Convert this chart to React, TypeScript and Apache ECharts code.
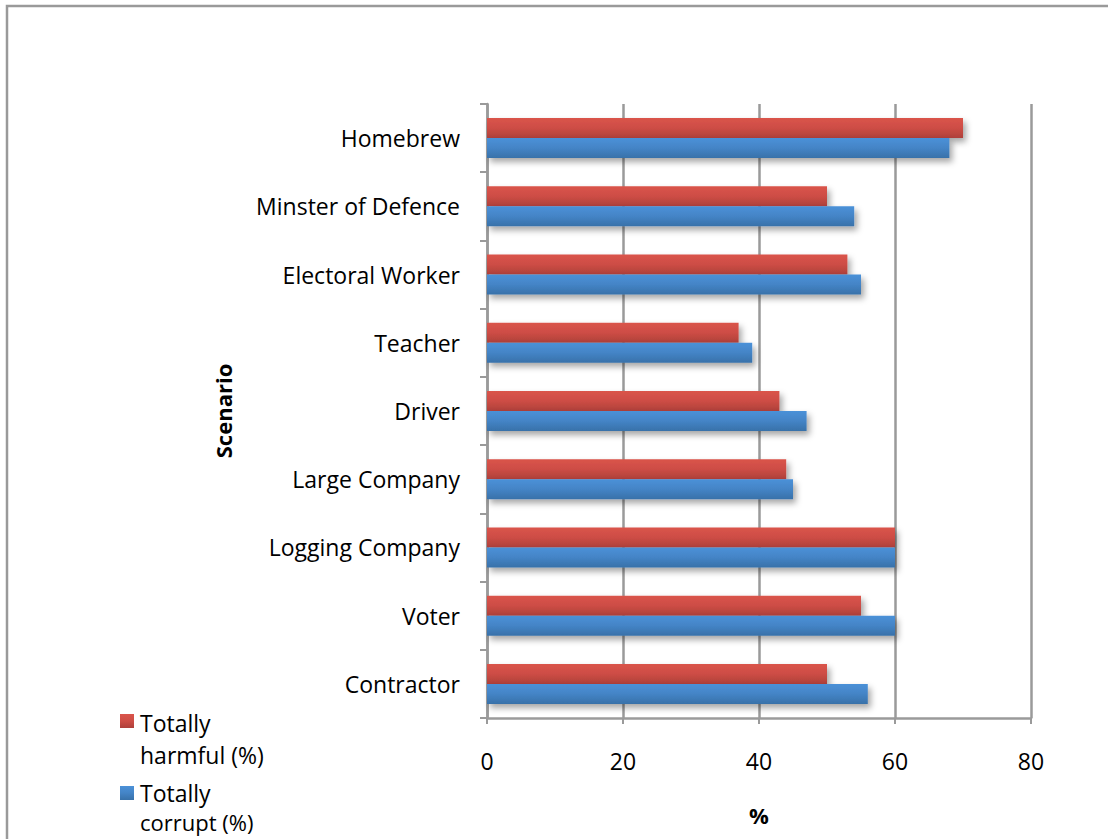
import React, { useEffect, useRef } from "react";
import * as echarts from "echarts";

const categories = [
  "Homebrew",
  "Minster of Defence",
  "Electoral Worker",
  "Teacher",
  "Driver",
  "Large Company",
  "Logging Company",
  "Voter",
  "Contractor",
];
const harmful = [70, 50, 53, 37, 43, 44, 60, 55, 50];
const corrupt = [68, 54, 55, 39, 47, 45, 60, 60, 56];
const xTicks = [0, 20, 40, 60, 80];
const seriesLines = [
  ["Totally", "harmful (%)"],
  ["Totally", "corrupt (%)"],
];

const FONT = "'Open Sans', sans-serif";
const FS = 23;
const GRID = "#9a9a9a";

const redGrad = new echarts.graphic.LinearGradient(0, 0, 0, 1, [
  { offset: 0, color: "#da544b" },
  { offset: 0.5, color: "#cd4d45" },
  { offset: 1, color: "#ae403a" },
]);
const blueGrad = new echarts.graphic.LinearGradient(0, 0, 0, 1, [
  { offset: 0, color: "#4b91d8" },
  { offset: 0.5, color: "#4484c6" },
  { offset: 1, color: "#3871a9" },
]);

export default function App() {
  const ref = useRef<HTMLDivElement>(null);
  useEffect(() => {
    if (!ref.current) return;
    const chart = echarts.init(ref.current, null, { renderer: "svg" });
    const shadow = {
      shadowBlur: 6,
      shadowColor: "rgba(0,0,0,0.35)",
      shadowOffsetX: 3,
      shadowOffsetY: 4,
    };
    const legendText = (text: string, y: number, size: number = FS) => ({
      type: "text",
      x: 140,
      y,
      style: {
        text,
        fontFamily: FONT,
        fontSize: size,
        lineHeight: size,
        fill: "#000",
        verticalAlign: "middle",
      },
    });
    chart.setOption({
      animation: false,
      backgroundColor: "#ffffff",
      grid: { left: 487, top: 104, width: 544, height: 614, containLabel: false },
      xAxis: {
        type: "value",
        min: 0,
        max: 80,
        interval: 20,
        name: "%",
        nameLocation: "middle",
        nameGap: 86,
        nameTextStyle: { fontFamily: FONT, fontSize: 22, fontWeight: "bold", color: "#000" },
        axisLine: { show: true, lineStyle: { color: GRID, width: 2.5 } },
        axisTick: { show: true, length: 6, lineStyle: { color: GRID, width: 2 } },
        axisLabel: {
          fontFamily: FONT,
          fontSize: FS,
          color: "#000",
          margin: 31,
          formatter: (v: number) => (xTicks.includes(v) ? String(v) : ""),
        },
        splitLine: { show: true, lineStyle: { color: GRID, width: 2.5 } },
      },
      yAxis: {
        type: "category",
        data: categories,
        inverse: true,
        name: "Scenario",
        nameLocation: "middle",
        nameGap: 253,
        nameRotate: 90,
        nameTextStyle: { fontFamily: FONT, fontSize: 22, fontWeight: "bold", color: "#000" },
        axisLine: { show: true, lineStyle: { color: GRID, width: 2.5 } },
        axisTick: { show: true, length: 7, lineStyle: { color: GRID, width: 2 } },
        axisLabel: {
          fontFamily: FONT,
          fontSize: FS,
          color: "#000",
          margin: 27,
          padding: [6, 0, 0, 0],
        },
        splitLine: { show: false },
      },
      series: [
        {
          name: "Totally harmful (%)",
          type: "bar",
          data: harmful,
          barWidth: 20,
          barGap: "0%",
          itemStyle: { color: redGrad, ...shadow },
        },
        {
          name: "Totally corrupt (%)",
          type: "bar",
          data: corrupt,
          barWidth: 20,
          barGap: "0%",
          itemStyle: { color: blueGrad, ...shadow },
        },
      ],
      graphic: [
        {
          type: "rect",
          shape: { x: 7, y: 6, width: 1200, height: 900 },
          style: { fill: "none", stroke: GRID, lineWidth: 2.5 },
          silent: true,
        },
        {
          type: "rect",
          shape: { x: 120, y: 714, width: 14, height: 14 },
          style: { fill: redGrad },
        },
        legendText(seriesLines[0][0], 723),
        legendText(seriesLines[0][1], 755),
        {
          type: "rect",
          shape: { x: 120, y: 786, width: 14, height: 14 },
          style: { fill: blueGrad },
        },
        legendText(seriesLines[1][0], 793),
        legendText(seriesLines[1][1], 822, 22),
      ],
    });
    return () => chart.dispose();
  }, []);
  return (
    <div
      ref={ref}
      style={{ position: "fixed", left: 0, top: 0, width: 1108, height: 839 }}
    />
  );
}
